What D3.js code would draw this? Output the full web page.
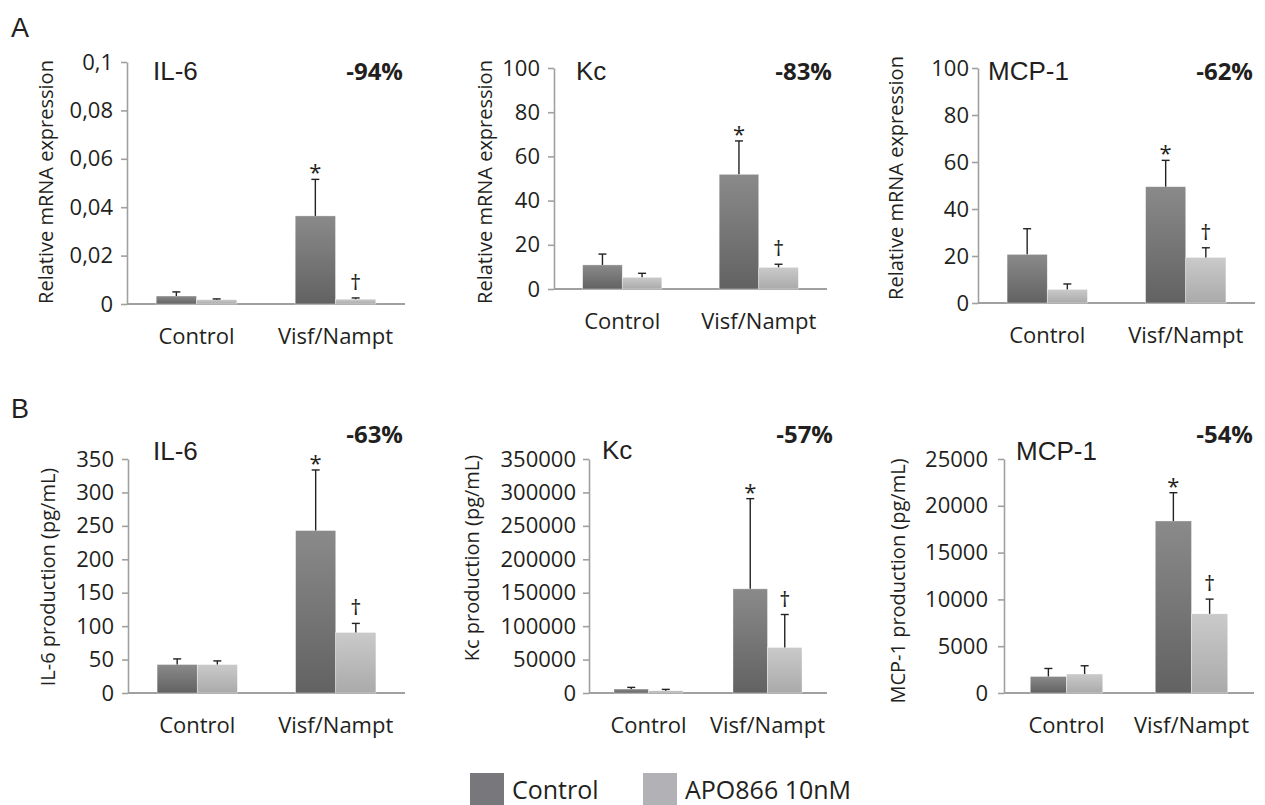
<!DOCTYPE html>
<html>
<head>
<meta charset="utf-8">
<script src="https://cdn.jsdelivr.net/npm/d3@7"></script>
<style>
  body { margin: 0; background: #fff; }
  svg { display: block; }
  .ylab { font-family: "Open Sans", sans-serif; font-size: 20px; fill: #231f20; }
  .title { font-family: "Liberation Sans", Arial, sans-serif; font-size: 26px; fill: #231f20; }
  .pct { font-family: "Open Sans", sans-serif; font-size: 24px; font-weight: bold; fill: #231f20; }
  .mark { font-family: "Open Sans", sans-serif; font-size: 22px; fill: #231f20; }
  .letter { font-family: "Liberation Sans", Arial, sans-serif; font-size: 27px; fill: #231f20; }
  .legend text { font-family: "Open Sans", sans-serif; font-size: 25px; fill: #231f20; }
</style>
</head>
<body>
<svg id="chart" width="1265" height="805"></svg>
<script>
// Shared categories and series.
var categories = ['Control', 'Visf/Nampt'];
var seriesNames = ['Control', 'APO866 10nM'];

// A: relative mRNA expression (mean and upper error per category).
var il6MrnaCtrl = [0.0033, 0.0364];
var il6MrnaCtrlErr = [0.0017, 0.0151];
var il6MrnaApo = [0.0018, 0.0020];
var il6MrnaApoErr = [0.0003, 0.0005];

var kcMrnaCtrl = [10.9, 51.9];
var kcMrnaCtrlErr = [4.9, 15.1];
var kcMrnaApo = [5.3, 9.8];
var kcMrnaApoErr = [1.8, 1.4];

var mcpMrnaCtrl = [20.7, 49.5];
var mcpMrnaCtrlErr = [10.9, 11.2];
var mcpMrnaApo = [5.8, 19.4];
var mcpMrnaApoErr = [2.3, 4.1];

// B: protein production (pg/mL).
var il6ProdCtrl = [42.6, 243];
var il6ProdCtrlErr = [8.4, 90.6];
var il6ProdApo = [42.6, 90.6];
var il6ProdApoErr = [5.4, 13.5];

var kcProdCtrl = [6000, 155800];
var kcProdCtrlErr = [2400, 134900];
var kcProdApo = [3400, 68100];
var kcProdApoErr = [2000, 49300];

var mcpProdCtrl = [1770, 18380];
var mcpProdCtrlErr = [850, 3020];
var mcpProdApo = [2030, 8460];
var mcpProdApoErr = [880, 1570];

// Axis ticks.
var ticksIl6Mrna = [0, 0.02, 0.04, 0.06, 0.08, 0.1];
var ticksMrna = [0, 20, 40, 60, 80, 100];
var ticksIl6Prod = [0, 50, 100, 150, 200, 250, 300, 350];
var ticksKcProd = [0, 50000, 100000, 150000, 200000, 250000, 300000, 350000];
var ticksMcpProd = [0, 5000, 10000, 15000, 20000, 25000];

// Panel texts.
var titles = ['IL-6', 'Kc', 'MCP-1', 'IL-6', 'Kc', 'MCP-1'];
var reductions = ['-94%', '-83%', '-62%', '-63%', '-57%', '-54%'];
var yLabels = ['Relative mRNA expression', 'Relative mRNA expression',
  'Relative mRNA expression', 'IL-6 production (pg/mL)',
  'Kc production (pg/mL)', 'MCP-1 production (pg/mL)'];

var panels = [
  {ctrl: il6MrnaCtrl, ctrlErr: il6MrnaCtrlErr, apo: il6MrnaApo, apoErr: il6MrnaApoErr, ticks: ticksIl6Mrna},
  {ctrl: kcMrnaCtrl, ctrlErr: kcMrnaCtrlErr, apo: kcMrnaApo, apoErr: kcMrnaApoErr, ticks: ticksMrna},
  {ctrl: mcpMrnaCtrl, ctrlErr: mcpMrnaCtrlErr, apo: mcpMrnaApo, apoErr: mcpMrnaApoErr, ticks: ticksMrna},
  {ctrl: il6ProdCtrl, ctrlErr: il6ProdCtrlErr, apo: il6ProdApo, apoErr: il6ProdApoErr, ticks: ticksIl6Prod},
  {ctrl: kcProdCtrl, ctrlErr: kcProdCtrlErr, apo: kcProdApo, apoErr: kcProdApoErr, ticks: ticksKcProd},
  {ctrl: mcpProdCtrl, ctrlErr: mcpProdCtrlErr, apo: mcpProdApo, apoErr: mcpProdApoErr, ticks: ticksMcpProd}
];

// Layout of each panel (pixels).
var layout = [
  {x0: 127, x1: 405, y0: 62, y1: 304, tx: 153, ty: 80, px: 403, py: 80, lx: 45, ly: 182, pad: 8},
  {x0: 554, x1: 827, y0: 68, y1: 289, tx: 576, ty: 80, px: 832, py: 80, lx: 484, ly: 182, pad: 8},
  {x0: 978, x1: 1255, y0: 68, y1: 303, tx: 988, ty: 80, px: 1253, py: 80, lx: 895, ly: 178, pad: 3},
  {x0: 128, x1: 405, y0: 459, y1: 693, tx: 153, ty: 460, px: 403, py: 443, lx: 47, ly: 577, pad: 8},
  {x0: 589, x1: 827, y0: 459, y1: 693, tx: 602, ty: 459, px: 833, py: 443, lx: 471, ly: 558, pad: 7},
  {x0: 1004, x1: 1254, y0: 459, y1: 693, tx: 1016, ty: 460, px: 1253, py: 443, lx: 897, ly: 581, pad: 10}
];

var svg = d3.select('#chart');
var locale = d3.formatLocale({decimal: ',', thousands: '', grouping: [3], currency: ['', '']});
var fmt = locale.format('~g');

// Vertical gradients for both series.
var defs = svg.append('defs');
var gradStops = [['#8a8a8a', '#626262'], ['#cacaca', '#aaaaaa']];
gradStops.forEach(function(stops, i) {
  var g = defs.append('linearGradient').attr('id', 'grad' + i).
      attr('x1', 0).attr('y1', 0).attr('x2', 0).attr('y2', 1);
  g.append('stop').attr('offset', '0%').attr('stop-color', stops[0]);
  g.append('stop').attr('offset', '100%').attr('stop-color', stops[1]);
});

panels.forEach(function(p, i) {
  var L = layout[i];
  var g = svg.append('g');

  var x0 = d3.scaleBand().domain(categories).range([L.x0, L.x1]).
      paddingInner(0.42).paddingOuter(0.21);
  var x1 = d3.scaleBand().domain(seriesNames).range([0, x0.bandwidth()]);
  var y = d3.scaleLinear().domain([0, d3.max(p.ticks)]).range([L.y1, L.y0]);

  // Y axis.
  var yAxis = g.append('g').attr('transform', 'translate(' + L.x0 + ',0)').
      call(d3.axisLeft(y).tickValues(p.ticks).tickFormat(fmt).
          tickSize(6).tickSizeOuter(0).tickPadding(L.pad));
  yAxis.selectAll('path, line').attr('stroke', '#a0a0a0').attr('stroke-width', 1.6);
  yAxis.selectAll('text').attr('font-family', '"Open Sans", sans-serif').
      attr('font-size', 22).attr('fill', '#231f20');

  // X axis.
  var xAxis = g.append('g').attr('transform', 'translate(0,' + L.y1 + ')').
      call(d3.axisBottom(x0).tickSize(0).tickSizeOuter(0).tickPadding(24));
  xAxis.select('path').attr('d', 'M' + L.x0 + ',0H' + L.x1).
      attr('stroke', '#a0a0a0').attr('stroke-width', 1.8);
  xAxis.selectAll('text').attr('font-family', '"Open Sans", sans-serif').
      attr('font-size', 22).attr('fill', '#231f20');

  var rows = categories.map(function(c, k) {
    return [
      {cat: c, s: 0, v: p.ctrl[k], e: p.ctrlErr[k]},
      {cat: c, s: 1, v: p.apo[k], e: p.apoErr[k]}
    ];
  });
  var flat = d3.merge(rows);

  var bx = function(d) { return x0(d.cat) + x1(seriesNames[d.s]); };
  var bc = function(d) { return bx(d) + x1.bandwidth() / 2; };

  // Bars.
  g.append('g').selectAll('rect').data(flat).join('rect').
      attr('x', bx).attr('width', x1.bandwidth()).
      attr('y', function(d) { return y(d.v); }).
      attr('height', function(d) { return y(0) - y(d.v); }).
      attr('fill', function(d) { return 'url(#grad' + d.s + ')'; }).
      attr('stroke', '#ffffff').attr('stroke-opacity', 0.6).attr('stroke-width', 0.6);

  // Error bars (upper only).
  var err = g.append('g').selectAll('g').data(flat).join('g');
  err.append('line').attr('x1', bc).attr('x2', bc).
      attr('y1', function(d) { return y(d.v); }).
      attr('y2', function(d) { return y(d.v + d.e); }).
      attr('stroke', '#222').attr('stroke-width', 1.4);
  err.append('line').
      attr('x1', function(d) { return bc(d) - 4; }).
      attr('x2', function(d) { return bc(d) + 4; }).
      attr('y1', function(d) { return y(d.v + d.e); }).
      attr('y2', function(d) { return y(d.v + d.e); }).
      attr('stroke', '#222').attr('stroke-width', 1.4);

  // Significance marks on the Visf/Nampt group.
  var visf = rows[1];
  g.append('text').attr('class', 'mark').attr('text-anchor', 'middle').
      attr('x', bc(visf[0])).attr('y', y(visf[0].v + visf[0].e) + 1).text('*');
  g.append('text').attr('class', 'mark').attr('text-anchor', 'middle').
      attr('x', bc(visf[1])).attr('y', y(visf[1].v + visf[1].e) - 8).text('\u2020');

  // Titles.
  g.append('text').attr('class', 'title').attr('x', L.tx).attr('y', L.ty).text(titles[i]);
  g.append('text').attr('class', 'pct').attr('text-anchor', 'end').
      attr('x', L.px).attr('y', L.py).text(reductions[i]);
  g.append('text').attr('class', 'ylab').attr('text-anchor', 'middle').
      attr('dominant-baseline', 'central').
      attr('transform', 'translate(' + L.lx + ',' + L.ly + ') rotate(-90)').
      text(yLabels[i]);
});

// Panel letters.
svg.append('text').attr('class', 'letter').attr('x', 11).attr('y', 37).text('A');
svg.append('text').attr('class', 'letter').attr('x', 11).attr('y', 418).text('B');

// Legend.
var legendColors = ['#78787c', '#b2b2b6'];
var legendX = [470, 643];
var legend = svg.append('g').attr('class', 'legend');
seriesNames.forEach(function(name, i) {
  legend.append('rect').attr('x', legendX[i]).attr('y', 773).
      attr('width', 34).attr('height', 32).attr('fill', legendColors[i]);
  legend.append('text').attr('x', legendX[i] + 42).attr('y', 799).text(name);
});
</script>
</body>
</html>
